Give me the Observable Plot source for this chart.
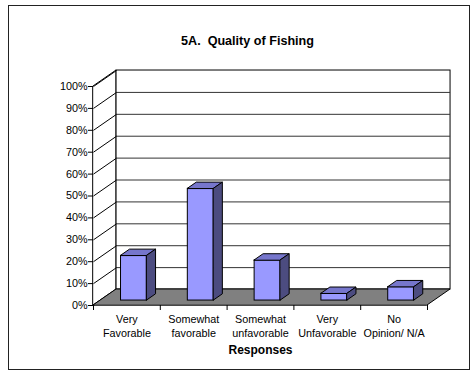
<!DOCTYPE html>
<html>
<head>
<meta charset="utf-8">
<script src="https://cdn.jsdelivr.net/npm/d3@7"></script>
<script src="https://cdn.jsdelivr.net/npm/@observablehq/plot@0.6"></script>
<style>
  html, body { margin: 0; padding: 0; background: #fff; }
  #wrap { position: relative; width: 474px; height: 380px; overflow: hidden; }
  #border { position: absolute; left: 8px; top: 5px; width: 462px; height: 365px; box-sizing: border-box;
            border: 1.5px solid #222; pointer-events: none; }
  #chart { position: absolute; left: 0; top: 0; }
  #chart svg text { white-space: pre; }
</style>
</head>
<body>
<div id="wrap">
  <div id="chart"></div>
  <div id="border"></div>
</div>
<script>
// Survey responses, share of respondents (%)
const categories = ["Very\nFavorable", "Somewhat\nfavorable", "Somewhat\nunfavorable", "Very\nUnfavorable", "No\nOpinion/ N/A"];
const shares = [20.4, 51.0, 18.3, 3.1, 6.1];
const yTicks = [0, 10, 20, 30, 40, 50, 60, 70, 80, 90, 100];
const chartTitle = "5A.  Quality of Fishing";
const xTitle = "Responses";

// Oblique projection: full depth of the box expressed in data units
const DX = 0.345;   // along x (category units)
const DY = 7.3;     // along y (percentage points)
const n = categories.length;

// Bar footprint within each category band and along the depth
const inset = 0.305, barW = 0.39, dFront = 0.31, dBack = 0.70;

const bars = categories.map((c, i) => ({i, v: shares[i]}));
const front = bars.map(b => ({
  x1: b.i + inset + dFront * DX,
  x2: b.i + inset + barW + dFront * DX,
  y1: dFront * DY,
  y2: b.v + dFront * DY
}));
const tops = bars.flatMap(b => [
  {z: b.i, y: b.v + dFront * DY, x1: b.i + inset + dFront * DX, x2: b.i + inset + barW + dFront * DX},
  {z: b.i, y: b.v + dBack * DY, x1: b.i + inset + dBack * DX, x2: b.i + inset + barW + dBack * DX}
]);
const sides = bars.flatMap(b => [
  {z: b.i, x: b.i + inset + barW + dFront * DX, y1: dFront * DY, y2: b.v + dFront * DY},
  {z: b.i, x: b.i + inset + barW + dBack * DX, y1: dBack * DY, y2: b.v + dBack * DY}
]);

const labels = categories.map((c, i) => ({x: i + 0.5, text: c}));

const chart = Plot.plot({
  width: 474,
  height: 380,
  marginLeft: 93,
  marginRight: 47,
  marginTop: 86,
  marginBottom: 75,
  x: {domain: [0, n]},
  y: {domain: [0, 100]},
  style: {fontFamily: "'Liberation Sans', Arial, sans-serif", fontSize: "10.8px", color: "#000", background: "transparent"},
  marks: [
    // left wall
    Plot.areaY([{x: 0, y1: 0, y2: 100}, {x: DX, y1: DY, y2: 100 + DY}],
      {x: "x", y1: "y1", y2: "y2", fill: "white", stroke: "black", strokeWidth: 1}),
    // back wall
    Plot.rect([0], {x1: () => DX, x2: () => n + DX, y1: () => DY, y2: () => 100 + DY,
      fill: "white", stroke: "black", strokeWidth: 1}),
    // gridlines on the back wall
    Plot.ruleY(yTicks.slice(1, -1), {y: d => d + DY, x1: () => DX, x2: () => n + DX, stroke: "#333", strokeWidth: 1}),
    // gridlines across the left wall
    Plot.link(yTicks, {x1: () => 0, y1: d => d, x2: () => DX, y2: d => d + DY, stroke: "black", strokeWidth: 1}),
    // floor
    Plot.areaX([{y: 0, x1: 0, x2: n}, {y: DY, x1: DX, x2: n + DX}],
      {y: "y", x1: "x1", x2: "x2", fill: "#808080", stroke: "black", strokeWidth: 1}),
    // columns: front, top and side faces
    Plot.rect(front, {x1: "x1", x2: "x2", y1: "y1", y2: "y2", fill: "#9999FF", stroke: "black", strokeWidth: 1}),
    Plot.areaX(tops, {y: "y", x1: "x1", x2: "x2", z: "z", fill: "#7676CC", stroke: "black", strokeWidth: 1}),
    Plot.areaY(sides, {x: "x", y1: "y1", y2: "y2", z: "z", fill: "#4C4C80", stroke: "black", strokeWidth: 1}),
    // axes
    Plot.axisY({ticks: yTicks, tickFormat: d => d + "%", tickSize: 5, tickPadding: 1, label: null}),
    Plot.axisX({ticks: d3.range(n + 1), tickFormat: () => "", tickSize: 5, label: null}),
    // category labels
    Plot.text(labels, {x: "x", y: () => 0, text: "text", lineAnchor: "top", dy: 8.5, lineHeight: 1.22,
      textAnchor: "middle", fontSize: 10.8}),
    // axis title
    Plot.text([xTitle], {frameAnchor: "bottom", dy: 48, fontWeight: "bold", fontSize: 12}),
    // chart title
    Plot.text([chartTitle], {frameAnchor: "top", dx: -13, dy: -50, fontWeight: "bold", fontSize: 12.6})
  ]
});
document.getElementById("chart").append(chart);
</script>
</body>
</html>
